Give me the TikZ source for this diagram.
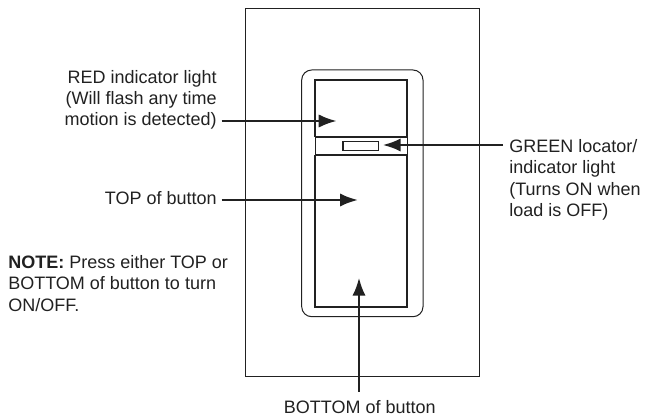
\documentclass[tikz,border=0pt]{standalone}
\usepackage{fontspec}
\setmainfont{Liberation Sans}
\usetikzlibrary{arrows.meta}
\definecolor{ink}{gray}{0.13}
\tikzset{x=0.75pt,y=-0.75pt,
 lab/.style={font=\fontsize{13.5pt}{16pt}\selectfont,text=ink,align=left,inner sep=0pt},
 rlab/.style={lab,align=right},
 thin line/.style={draw=ink,line width=0.75pt},
 thick line/.style={draw=ink,line width=1.4pt},
 callout/.style={draw=ink,line width=1.9pt,-{Latex[length=13.5pt,width=10pt,inset=3pt]}}}
\begin{document}
\begin{tikzpicture}
\useasboundingbox (0,0) rectangle (654,416);
\draw[thin line] (245.3,9) rectangle (479,377);
\draw[thin line,rounded corners=7.5pt] (301.7,70) rectangle (423,316.7);
\draw[thick line] (315,137) |- (407,80) -- (407,137);
\draw[thin line] (315,137) -- (315,155) (407,137) -- (407,155);
\draw[thick line] (315,155) -- (315,306.7) -- (407,306.7) -- (407,155);
\draw[thick line] (315,137) -- (407,137) (315,155) -- (407,155);
\draw[thin line,line width=1.2pt] (343,141.7) rectangle (378.3,150.5);
\node[rlab,anchor=east] (red) at (217,100) {RED indicator light\\(Will flash any time\\motion is detected)};
\coordinate (redS) at (221.7,121);
\coordinate (redT) at (336.7,121);
\draw[callout] (redS) -- (redT);
\node[lab,anchor=west] (green) at (509,180) {GREEN locator/\\indicator light\\(Turns ON when\\load is OFF)};
\coordinate (greenS) at (503,145);
\coordinate (greenT) at (382.7,145);
\draw[callout] (greenS) -- (greenT);
\node[rlab,anchor=east] (top) at (217,198) {TOP of button};
\coordinate (topS) at (221.7,200);
\coordinate (topT) at (358,200);
\draw[callout] (topS) -- (topT);
\node[lab,anchor=west] (note) at (8,283.5) {\textbf{NOTE:} Press either TOP or\\BOTTOM of button to turn\\ON/OFF.};
\node[lab,anchor=center] (bot) at (359.7,407) {BOTTOM of button};
\coordinate (botS) at (359,392);
\coordinate (botT) at (359,277.7);
\draw[callout] (botS) -- (botT);
\end{tikzpicture}
\end{document}
